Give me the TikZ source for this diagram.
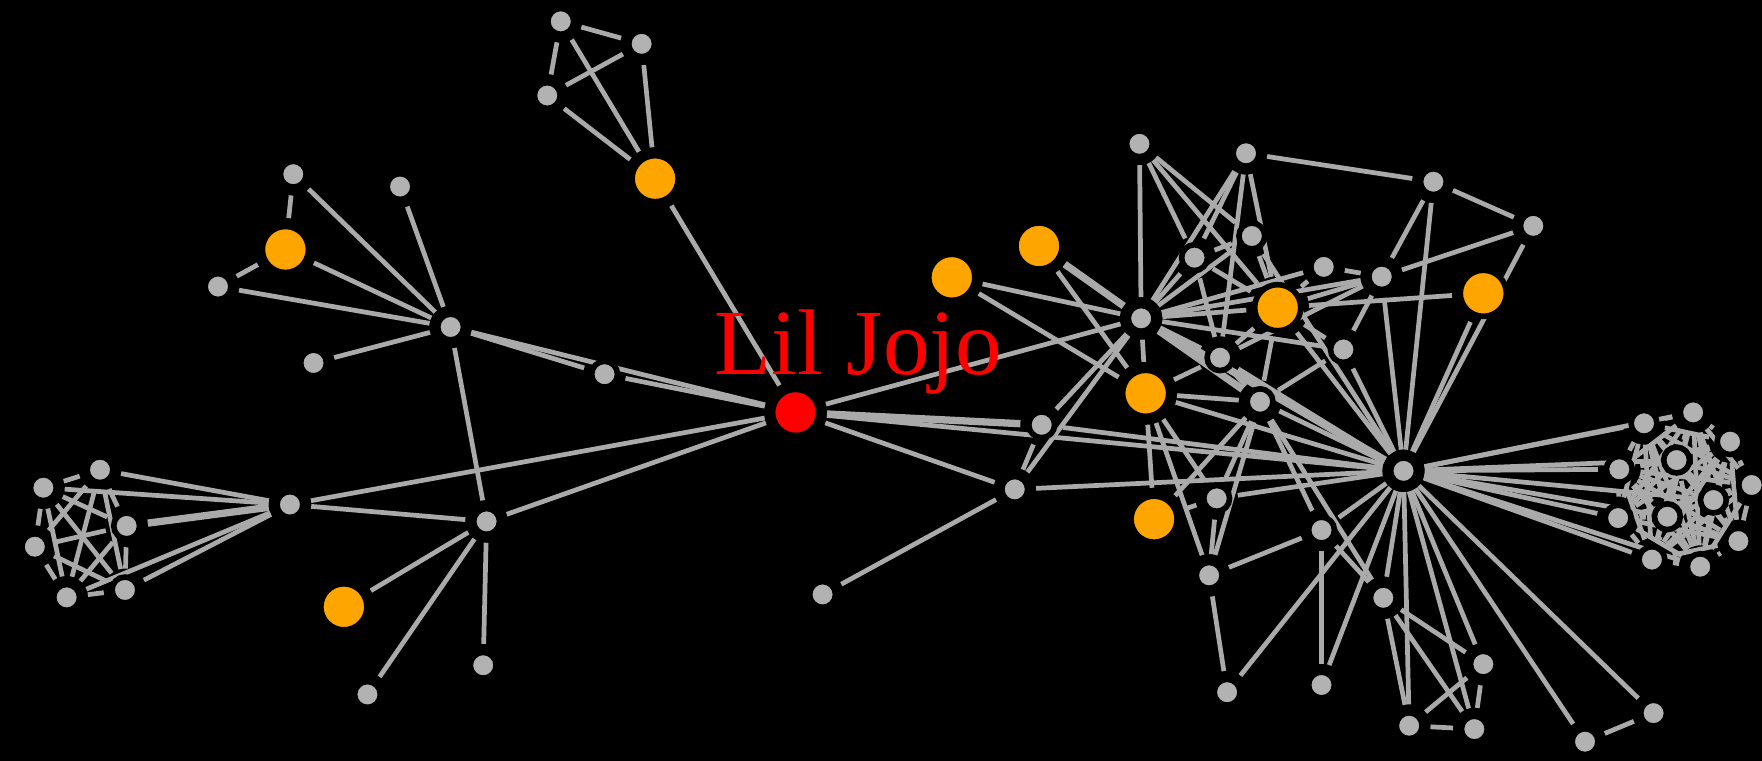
\documentclass[tikz,border=0pt]{standalone}
\usepackage{fontspec}
\setmainfont{Liberation Serif}
\pgfdeclarelayer{background}
\pgfsetlayers{background,main}
\definecolor{edgegray}{RGB}{170,170,170}
\definecolor{nodegray}{RGB}{178,178,178}
\definecolor{orangenode}{RGB}{255,165,0}
\tikzset{
  gnode/.style={circle,inner sep=0pt,minimum size=23pt,fill=nodegray,draw=black,line width=5pt},
  onode/.style={circle,inner sep=0pt,minimum size=41pt,fill=orangenode,draw=black,line width=5pt},
  rnode/.style={circle,inner sep=0pt,minimum size=41pt,fill=red,draw=black,line width=5pt},
  edge/.style={draw=edgegray,line width=4.2pt,shorten <=5pt,shorten >=5pt},
  thickedge/.style={draw=edgegray,line width=6.5pt,shorten <=5pt,shorten >=5pt}
}
\begin{document}
\begin{tikzpicture}[x=1pt,y=-1pt]
\begin{pgfonlayer}{background}
\fill[black] (0,0) rectangle (1568,677);
\end{pgfonlayer}
\useasboundingbox (0,0) rectangle (1568,677);
% left part
\node[gnode] (A1) at (499,19) {};
\node[gnode] (A2) at (571,39) {};
\node[gnode] (A3) at (487,85) {};
\node[onode] (O1) at (583,159) {};
\node[gnode] (B1) at (261,155) {};
\node[gnode] (B2) at (356,166) {};
\node[onode] (O2) at (254,222) {};
\node[gnode] (B3) at (194,255) {};
\node[gnode] (H1) at (401,291) {};
\node[gnode] (B4) at (279,323) {};
\node[gnode] (C1) at (538,333) {};
\node[rnode] (RED) at (708,367) {};
\node[gnode] (H2) at (258,449) {};
\node[gnode] (H3) at (433,464) {};
\node[onode] (O3) at (306,540) {};
\node[gnode] (B5) at (327,618) {};
\node[gnode] (B6) at (430,592) {};
\node[gnode] (K1) at (38.6,434) {};
\node[gnode] (K2) at (89,418) {};
\node[gnode] (K3) at (112.7,468) {};
\node[gnode] (K4) at (31,486.5) {};
\node[gnode] (K5) at (59.3,531.6) {};
\node[gnode] (K6) at (111.2,525) {};
% middle
\node[gnode] (D1) at (927,378) {};
\node[gnode] (D2) at (903,435.5) {};
\node[gnode] (D3) at (732,529) {};
\node[onode] (O4) at (847,246.8) {};
\node[onode] (O5) at (924.6,218.9) {};
\node[onode] (O6) at (1019.5,350) {};
\node[onode] (O7) at (1027,462) {};
\node[onode] (O8) at (1137,273.8) {};
\node[onode] (O9) at (1320,261) {};
% right part
\node[gnode] (E1) at (1014,128) {};
\node[gnode] (E2) at (1108.8,136.4) {};
\node[gnode] (E3) at (1275.6,161.7) {};
\node[gnode] (E4) at (1364.5,201) {};
\node[gnode] (E5) at (1063,229.3) {};
\node[gnode] (E6) at (1114,210) {};
\node[gnode] (E7) at (1178,237.5) {};
\node[gnode] (E8) at (1229.6,246.2) {};
\node[gnode] (H4) at (1015.5,283.3) {};
\node[gnode] (E9) at (1085.7,318.3) {};
\node[gnode] (E10) at (1195.5,311) {};
\node[gnode] (E11) at (1121.3,357.5) {};
\node[gnode] (BIG) at (1249,419) {};
\node[gnode] (E12) at (1082.7,443.5) {};
\node[gnode] (E13) at (1176,471.7) {};
\node[gnode] (E14) at (1076,512) {};
\node[gnode] (E15) at (1231,532) {};
\node[gnode] (E16) at (1092,616) {};
\node[gnode] (E17) at (1176,609.6) {};
\node[gnode] (E18) at (1320,591) {};
\node[gnode] (E19) at (1254,645.8) {};
\node[gnode] (E20) at (1312,648.8) {};
\node[gnode] (E21) at (1410.5,660) {};
\node[gnode] (E22) at (1471.5,634.6) {};
\node[gnode] (R1) at (1463,376.7) {};
\node[gnode] (R2) at (1506.7,367) {};
\node[gnode] (R3) at (1539.6,393) {};
\node[gnode] (R4) at (1441,417.6) {};
\node[gnode] (R5) at (1492,409.4) {};
\node[gnode] (R6) at (1558.8,431.6) {};
\node[gnode] (R7) at (1524.7,445) {};
\node[gnode] (R8) at (1483.8,459.8) {};
\node[gnode] (R9) at (1440,461) {};
\node[gnode] (R10) at (1547,481.5) {};
\node[gnode] (R11) at (1470,498) {};
\node[gnode] (R12) at (1513,504.3) {};
\begin{pgfonlayer}{background}
\foreach \a/\b in {A1/A2,A1/A3,A1/O1,A2/A3,A2/O1,A3/O1,O1/RED,
  B1/O2,B1/H1,B2/H1,O2/B3,O2/H1,B3/H1,B4/H1,H1/C1,H1/RED,C1/RED,H1/H3,
  K1/H2,K2/H2,K5/H2,K6/H2,H2/RED,H2/H3,
  H3/RED,H3/O3,H3/B5,H3/B6,
  RED/H4,RED/BIG,RED/D2,
  D1/D2,D1/BIG,D1/H4,D2/BIG,D2/H4,D2/D3,
  O4/H4,O4/O6,O5/O6,
  E1/H4,E1/E5,E1/E6,E1/O8,
  E2/E3,E2/E5,E2/H4,E2/O8,E2/E9,
  E3/E4,E3/E8,E3/BIG,
  E4/E8,E4/BIG,O9/BIG,O8/O9,
  E5/H4,E5/E6,E5/O8,E5/E9,
  E6/H4,E6/O8,E6/BIG,
  E7/E8,E7/H4,E7/O8,
  E8/H4,E8/O8,E8/BIG,E8/E10,E8/E9,
  H4/O8,H4/E9,H4/E10,H4/O6,
  O6/E9,O6/E11,O6/BIG,O6/O7,O6/E14,O6/E12,
  O8/BIG,O8/E9,O8/E11,O8/E10,
  E9/BIG,E9/E11,E10/BIG,E10/E11,
  E11/BIG,E11/E12,E11/E13,E11/E14,E11/O7,E11/E15,
  E12/BIG,E12/O7,E12/E14,
  E13/BIG,E13/E14,E13/E17,E13/E15,
  E14/E16,
  BIG/E15,BIG/E16,BIG/E17,BIG/E18,BIG/E19,BIG/E20,BIG/E21,BIG/E22,
  E15/E18,E15/E19,E15/E20,E18/E19,E18/E20,E19/E20,E21/E22,
  BIG/R1,BIG/R2,BIG/R4,BIG/R5,BIG/R7,BIG/R8,BIG/R9,BIG/R11,BIG/R12}
  \draw[edge] (\a) -- (\b);
\foreach \a/\b in {K3/H2,RED/D1,O5/H4,H4/E11,H4/BIG}
  \draw[thickedge] (\a) -- (\b);
\foreach \i [evaluate=\i as \n using int(\i+1)] in {1,...,5}
  \foreach \j in {\n,...,6}
    \draw[edge] (K\i) -- (K\j);
\foreach \i [evaluate=\i as \n using int(\i+1)] in {1,...,11}
  \foreach \j in {\n,...,12}
    \draw[edge] (R\i) -- (R\j);
\end{pgfonlayer}
\node[text=red,anchor=base,inner sep=0pt,font=\fontsize{83}{83}\selectfont] (label) at (764,333) {Lil Jojo};
\end{tikzpicture}
\end{document}
